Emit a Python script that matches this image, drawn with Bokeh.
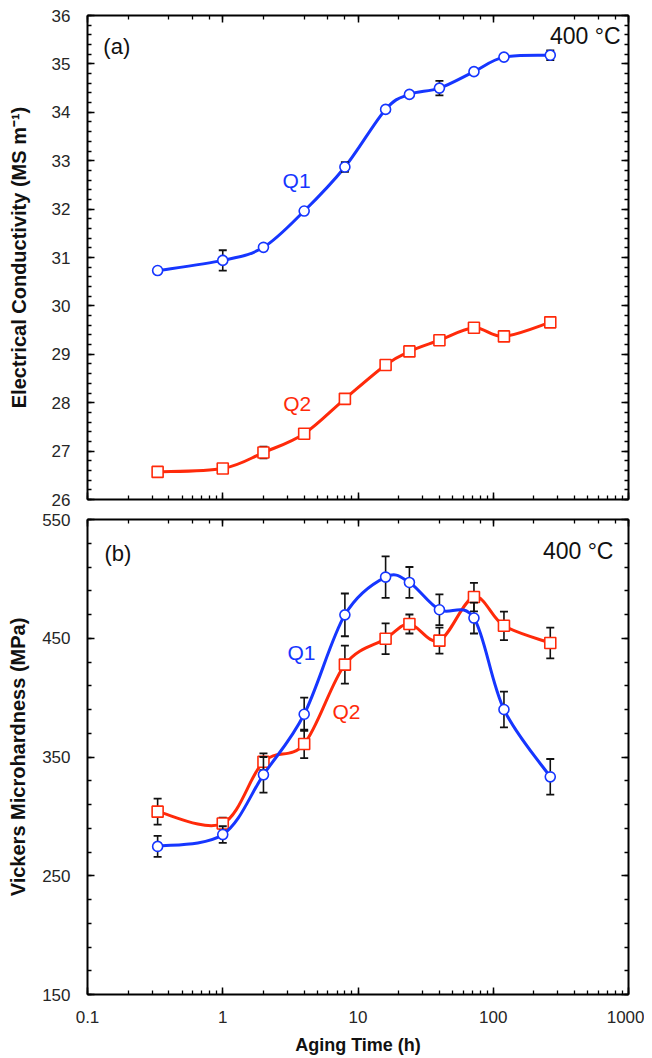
import numpy as np
from bokeh.plotting import figure
from bokeh.layouts import column
from bokeh.models import (Range1d, LinearAxis, LogAxis, Label, FixedTicker,
                          SingleIntervalTicker, CustomJSTickFormatter, ColumnDataSource)
from bokeh.embed import file_html
from bokeh.resources import INLINE

# ---------------- data ----------------
aging_time = [0.33, 1, 2, 4, 8, 16, 24, 40, 72, 120, 264]

ec_q1 = [30.73, 30.94, 31.21, 31.96, 32.87, 34.06, 34.37, 34.50, 34.84, 35.14, 35.18]
ec_q1_err = [0.03, 0.21, 0.05, 0.05, 0.10, 0.04, 0.05, 0.15, 0.05, 0.04, 0.10]
ec_q2 = [26.57, 26.64, 26.97, 27.36, 28.08, 28.78, 29.06, 29.29, 29.55, 29.37, 29.66]
ec_q2_err = [0.03, 0.04, 0.12, 0.04, 0.04, 0.04, 0.04, 0.04, 0.06, 0.04, 0.04]

hv_q1 = [274.7, 284.7, 335.0, 386.0, 469.7, 501.5, 497.0, 474.0, 467.0, 390.0, 333.3]
hv_q1_err = [8.8, 7.0, 15.0, 14.0, 18.0, 17.5, 13.0, 13.0, 13.0, 15.0, 15.0]
hv_q2 = [304.0, 294.0, 346.0, 361.0, 427.8, 449.6, 462.0, 448.0, 484.7, 460.5, 446.0]
hv_q2_err = [11.0, 5.0, 7.0, 12.0, 16.0, 13.0, 8.0, 11.0, 12.0, 12.0, 13.0]

x_limits = (0.1, 1000)
ec_limits = (26, 36)
hv_limits = (150, 550)
hv_tick_labels = [150, 250, 350, 450, 550]

BLUE = "#1636ff"
RED = "#ff2a0a"
FONT = "Liberation Sans"


def catmull_bezier(xs, ys):
    """Smooth curve through the data points as cubic Bezier pieces (log-x space)."""
    lx = np.log10(np.asarray(xs, float))
    yy = np.asarray(ys, float)
    P = np.column_stack([lx, yy])
    n = len(P)
    d = {k: [] for k in ("x0", "y0", "x1", "y1", "cx0", "cy0", "cx1", "cy1")}
    for i in range(n - 1):
        p0 = P[i - 1] if i > 0 else P[i]
        p1 = P[i]
        p2 = P[i + 1]
        p3 = P[i + 2] if i + 2 < n else P[i + 1]
        c1 = p1 + (p2 - p0) / 6.0
        c2 = p2 - (p3 - p1) / 6.0
        d["x0"].append(10 ** p1[0]); d["y0"].append(p1[1])
        d["x1"].append(10 ** p2[0]); d["y1"].append(p2[1])
        d["cx0"].append(10 ** c1[0]); d["cy0"].append(c1[1])
        d["cx1"].append(10 ** c2[0]); d["cy1"].append(c2[1])
    return ColumnDataSource(d)


def style_axis(ax, labels=True, size="17px", label_size="20px"):
    ax.axis_line_width = 2
    ax.axis_line_color = "black"
    ax.major_tick_in = 7
    ax.major_tick_out = 0
    ax.minor_tick_in = 4
    ax.minor_tick_out = 0
    ax.major_tick_line_width = 1.5
    ax.minor_tick_line_width = 1.3
    ax.major_tick_line_color = "black"
    ax.minor_tick_line_color = "black"
    ax.major_label_text_font = FONT
    ax.major_label_text_font_size = size
    ax.major_label_text_color = "#262626"
    ax.axis_label_text_font = FONT
    ax.axis_label_text_font_size = label_size
    ax.axis_label_text_font_style = "bold"
    ax.axis_label_text_color = "#111111"
    if not labels:
        ax.formatter = CustomJSTickFormatter(code="return ''")
        ax.major_label_text_font_size = "0px"
        ax.major_label_standoff = 0


def series(p, x, y, err, color, marker, msize):
    lo = [v - e for v, e in zip(y, err)]
    hi = [v + e for v, e in zip(y, err)]
    src = catmull_bezier(x, y)
    p.bezier(x0="x0", y0="y0", x1="x1", y1="y1", cx0="cx0", cy0="cy0",
             cx1="cx1", cy1="cy1", source=src, line_color=color, line_width=3)
    p.segment(x0=x, y0=lo, x1=x, y1=hi, line_color="#111111", line_width=1.6)
    p.dash(x=x + x, y=lo + hi, size=8, line_color="#111111", line_width=1.8)
    p.scatter(x=x, y=y, marker=marker, size=msize, fill_color="white",
              line_color=color, line_width=1.6)


log_fmt = CustomJSTickFormatter(code="return String(Number(tick.toPrecision(6)))")

# ---------------- top panel ----------------
p1 = figure(width=644, height=509, x_axis_type="log",
            x_range=Range1d(*x_limits), y_range=Range1d(*ec_limits),
            min_border_left=87, min_border_right=16, min_border_top=15,
            min_border_bottom=10, output_backend="svg", toolbar_location=None)
p1.grid.visible = False
p1.outline_line_color = None
p1.background_fill_color = "white"
p1.yaxis.ticker = SingleIntervalTicker(interval=1, num_minor_ticks=5)
p1.yaxis.axis_label = "Electrical Conductivity (MS m\u207b\u00b9)"
style_axis(p1.yaxis[0])
p1.yaxis.major_label_standoff = 17
p1.yaxis.axis_label_standoff = 19
style_axis(p1.xaxis[0], labels=False)
ax_r = LinearAxis(ticker=SingleIntervalTicker(interval=1, num_minor_ticks=5))
style_axis(ax_r, labels=False)
p1.add_layout(ax_r, "right")
ax_t = LogAxis()
style_axis(ax_t, labels=False)
p1.add_layout(ax_t, "above")

series(p1, aging_time, ec_q1, ec_q1_err, BLUE, "circle", 10)
series(p1, aging_time, ec_q2, ec_q2_err, RED, "square", 11)

p1.add_layout(Label(x=0.131, y=35.36, text="(a)", text_font=FONT, text_font_size="22px",
                    text_color="#111111", text_align="left", text_baseline="middle"))
p1.add_layout(Label(x=873, y=35.57, text="400 \u00b0C", text_font=FONT, text_font_size="23px",
                    text_color="#111111", text_align="right", text_baseline="middle"))
p1.add_layout(Label(x=2.77, y=32.59, text="Q1", text_font=FONT, text_font_size="21px",
                    text_color=BLUE, text_align="left", text_baseline="middle"))
p1.add_layout(Label(x=2.80, y=27.98, text="Q2", text_font=FONT, text_font_size="21px",
                    text_color=RED, text_align="left", text_baseline="middle"))

# ---------------- bottom panel ----------------
p2 = figure(width=644, height=548, x_axis_type="log",
            x_range=Range1d(*x_limits), y_range=Range1d(*hv_limits),
            min_border_left=87, min_border_right=16, min_border_top=10,
            min_border_bottom=60, output_backend="svg", toolbar_location=None)
p2.grid.visible = False
p2.outline_line_color = None
hv_ticker = FixedTicker(ticks=hv_tick_labels,
                        minor_ticks=list(range(hv_limits[0], hv_limits[1] + 1, 20)))
p2.yaxis.ticker = hv_ticker
p2.yaxis.axis_label = "Vickers Microhardness (MPa)"
style_axis(p2.yaxis[0])
p2.yaxis.major_label_standoff = 17
p2.yaxis.axis_label_standoff = 10
p2.xaxis.axis_label = "Aging Time (h)"
style_axis(p2.xaxis[0], label_size="18px")
p2.xaxis.formatter = log_fmt
p2.xaxis.major_label_standoff = 16
p2.xaxis.axis_label_standoff = 9
ax_r2 = LinearAxis(ticker=FixedTicker(ticks=hv_tick_labels,
                                      minor_ticks=list(range(hv_limits[0], hv_limits[1] + 1, 20))))
style_axis(ax_r2, labels=False)
p2.add_layout(ax_r2, "right")
ax_t2 = LogAxis()
style_axis(ax_t2, labels=False)
p2.add_layout(ax_t2, "above")

series(p2, aging_time, hv_q2, hv_q2_err, RED, "square", 11)
series(p2, aging_time, hv_q1, hv_q1_err, BLUE, "circle", 10)

p2.add_layout(Label(x=0.1336, y=521.5, text="(b)", text_font=FONT, text_font_size="22px",
                    text_color="#111111", text_align="left", text_baseline="middle"))
p2.add_layout(Label(x=774, y=523.2, text="400 \u00b0C", text_font=FONT, text_font_size="23px",
                    text_color="#111111", text_align="right", text_baseline="middle"))
p2.add_layout(Label(x=3.01, y=437.9, text="Q1", text_font=FONT, text_font_size="21px",
                    text_color=BLUE, text_align="left", text_baseline="middle"))
p2.add_layout(Label(x=6.47, y=388.5, text="Q2", text_font=FONT, text_font_size="21px",
                    text_color=RED, text_align="left", text_baseline="middle"))

layout = column(p1, p2, spacing=0)
open("out.html", "w").write(file_html(layout, INLINE))
